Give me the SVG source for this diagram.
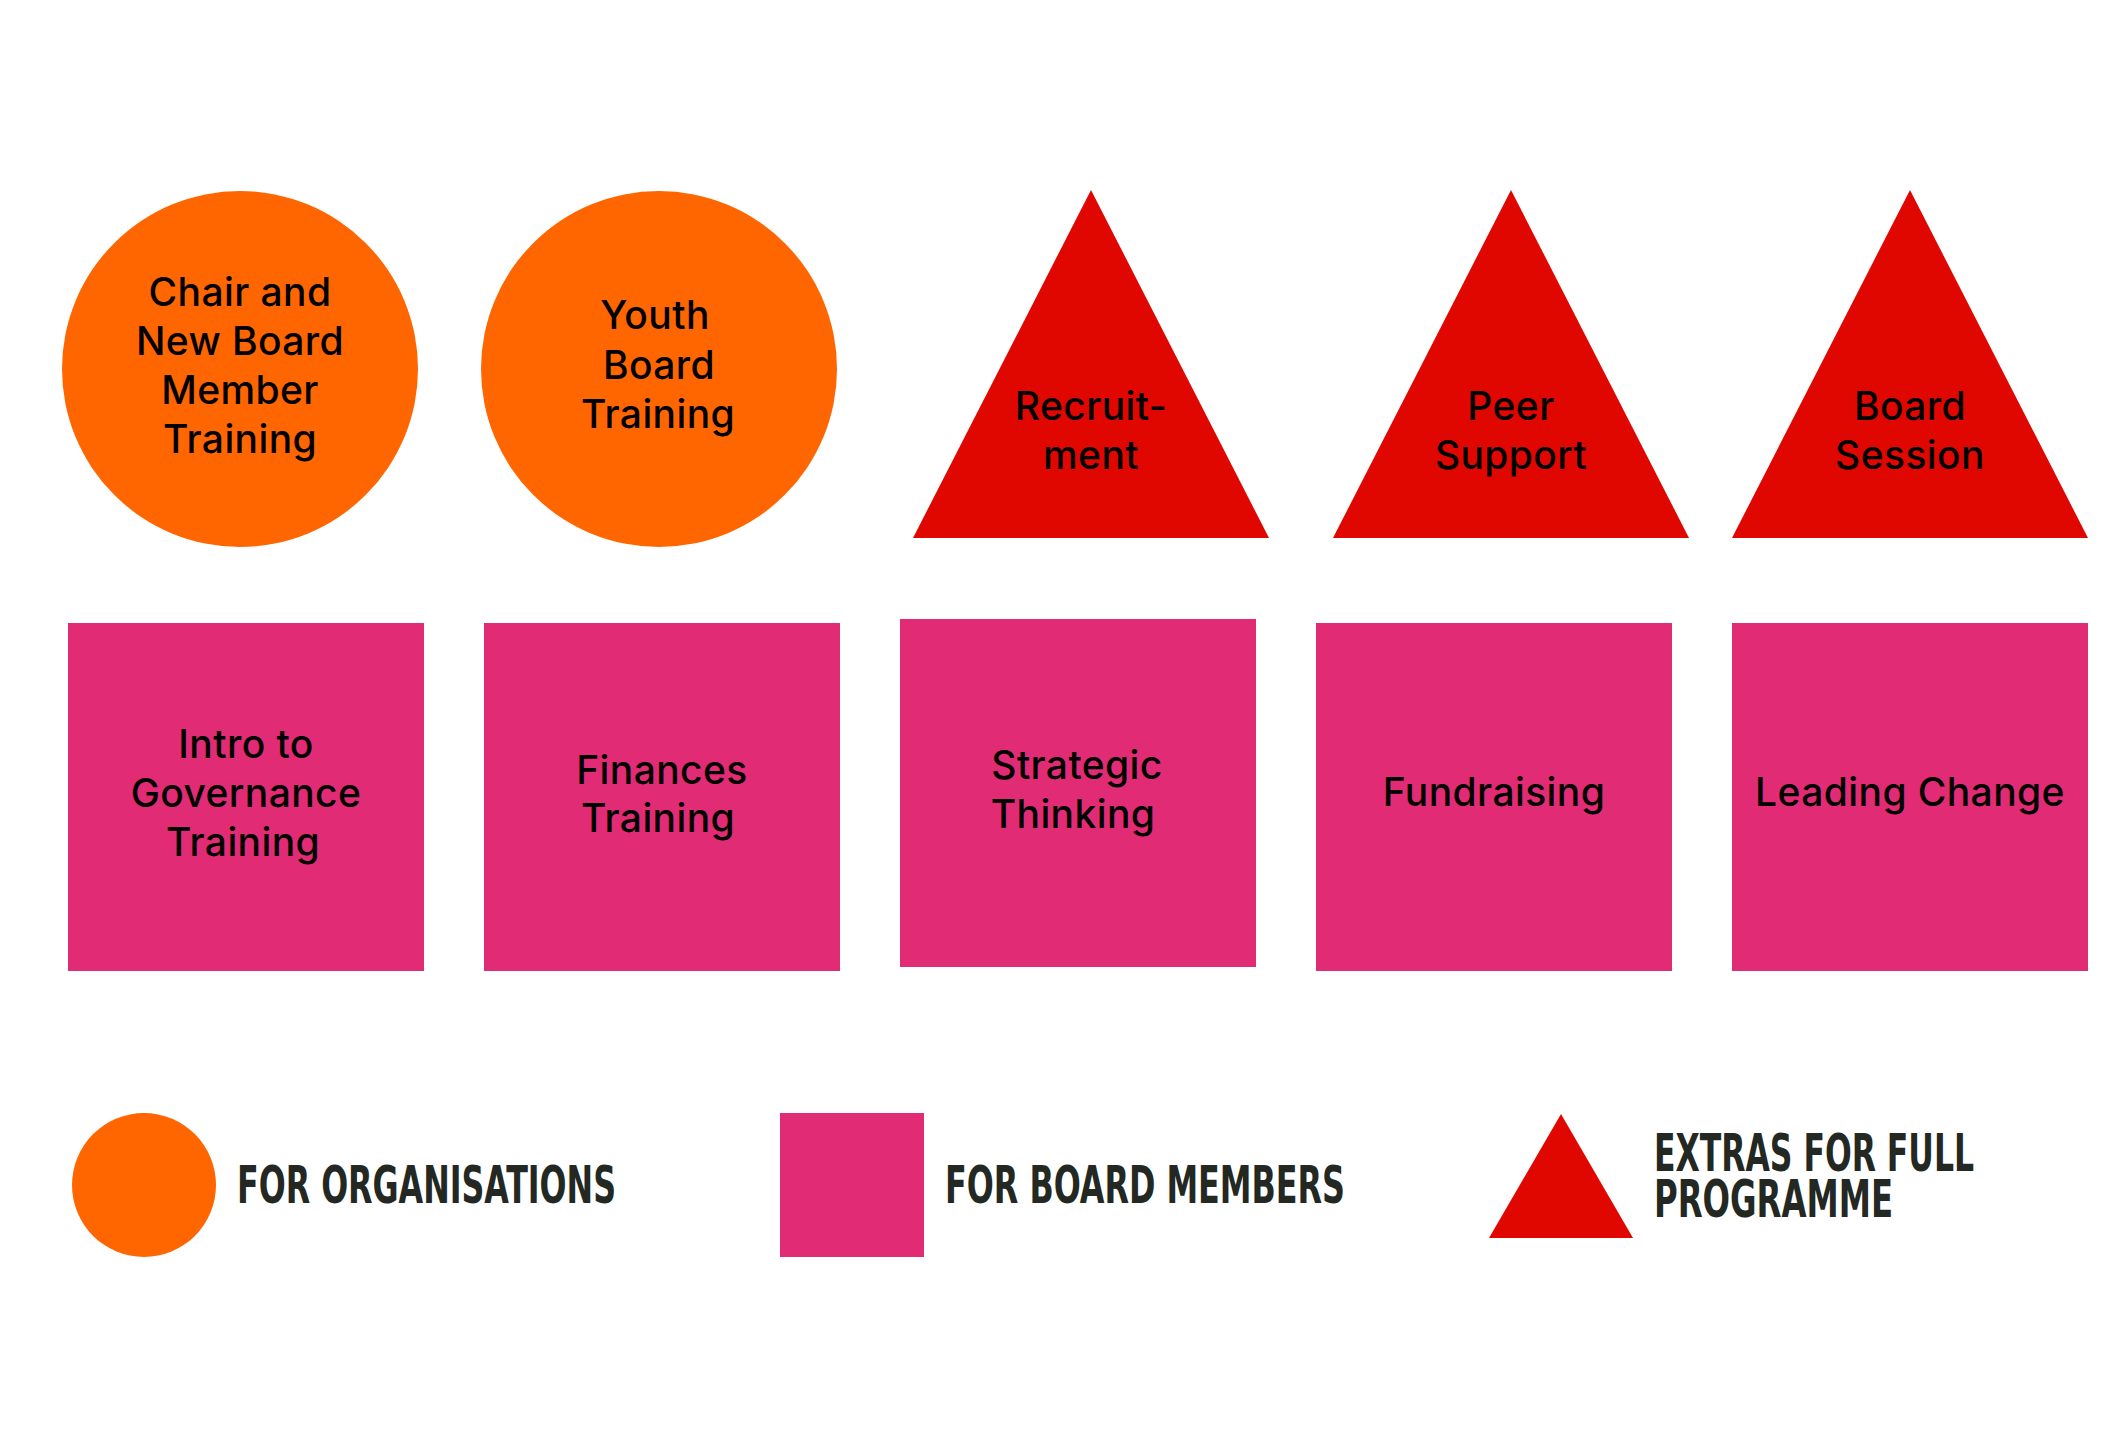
<svg xmlns="http://www.w3.org/2000/svg" width="2125" height="1434" viewBox="0 0 2125 1434">
<style>
.org{fill:#FF6600}
.ext{fill:#E00700}
.brd{fill:#E22B75}
.lbl{font-family:Inter,"Noto Sans","Liberation Sans",sans-serif;font-weight:500;font-size:39px;letter-spacing:0.4px;fill:#000;text-anchor:middle}
.leg{font-family:"Liberation Sans Narrow","DejaVu Sans Condensed","Liberation Sans",sans-serif;font-weight:bold;font-size:52px;fill:#232823}
</style>
<rect width="2125" height="1434" fill="#fff"/>
<g id="connectors"/>
<g id="n-chair">
<circle class="org" cx="240" cy="369" r="178"/>
<text class="lbl"><tspan x="240" y="306">Chair and</tspan><tspan x="240" y="355">New Board</tspan><tspan x="240" y="404">Member</tspan><tspan x="240" y="453">Training</tspan></text>
</g>
<g id="n-youth">
<circle class="org" cx="659" cy="369" r="178"/>
<text class="lbl"><tspan x="655" y="329">Youth</tspan><tspan x="659" y="379">Board</tspan><tspan x="658" y="428">Training</tspan></text>
</g>
<g id="n-recruit">
<polygon class="ext" points="1091,190 1269,538 913,538"/>
<text class="lbl"><tspan x="1091" y="420">Recruit-</tspan><tspan x="1091" y="469">ment</tspan></text>
</g>
<g id="n-peer">
<polygon class="ext" points="1511,190 1689,538 1333,538"/>
<text class="lbl"><tspan x="1511" y="420">Peer</tspan><tspan x="1511" y="469">Support</tspan></text>
</g>
<g id="n-session">
<polygon class="ext" points="1910,190 2088,538 1732,538"/>
<text class="lbl"><tspan x="1910" y="420">Board</tspan><tspan x="1910" y="469">Session</tspan></text>
</g>
<g id="n-intro">
<rect class="brd" x="68" y="623" width="356" height="348"/>
<text class="lbl"><tspan x="246" y="758">Intro to</tspan><tspan x="246" y="807">Governance</tspan><tspan x="243" y="856">Training</tspan></text>
</g>
<g id="n-finances">
<rect class="brd" x="484" y="623" width="356" height="348"/>
<text class="lbl"><tspan x="662" y="784">Finances</tspan><tspan x="658" y="832">Training</tspan></text>
</g>
<g id="n-strategic">
<rect class="brd" x="900" y="619" width="356" height="348"/>
<text class="lbl"><tspan x="1077" y="779">Strategic</tspan><tspan x="1073" y="828">Thinking</tspan></text>
</g>
<g id="n-fund">
<rect class="brd" x="1316" y="623" width="356" height="348"/>
<text class="lbl"><tspan x="1494" y="806">Fundraising</tspan></text>
</g>
<g id="n-leading">
<rect class="brd" x="1732" y="623" width="356" height="348"/>
<text class="lbl"><tspan x="1910" y="806">Leading Change</tspan></text>
</g>
<g id="legend">
<circle class="org" cx="144" cy="1185" r="72"/>
<text class="leg" x="237" y="1203" textLength="379" lengthAdjust="spacingAndGlyphs">FOR ORGANISATIONS</text>
<rect class="brd" x="780" y="1113" width="144" height="144"/>
<text class="leg" x="945" y="1203" textLength="400" lengthAdjust="spacingAndGlyphs">FOR BOARD MEMBERS</text>
<polygon class="ext" points="1561,1114 1633,1238 1489,1238"/>
<text class="leg"><tspan x="1654" y="1171" textLength="320" lengthAdjust="spacingAndGlyphs">EXTRAS FOR FULL</tspan><tspan x="1654" y="1217" textLength="239" lengthAdjust="spacingAndGlyphs">PROGRAMME</tspan></text>
</g>
</svg>
